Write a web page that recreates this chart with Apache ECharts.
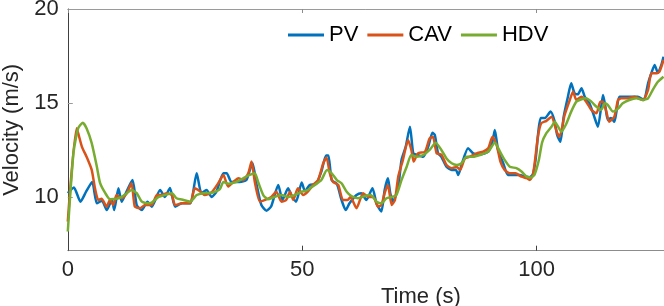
<!DOCTYPE html>
<html><head><meta charset="utf-8">
<script src="https://cdn.jsdelivr.net/npm/echarts@6/dist/echarts.min.js"></script>
<style>html,body{margin:0;padding:0;background:#fff}#c{width:664px;height:306px}</style>
</head><body><div id="c"></div>
<script>
const seriesNames = ['PV', 'CAV', 'HDV'];
const xTicks = [0, 50, 100];
const yTicks = [10, 15, 20];

const pvTime = [0,1.3,2.7,3.9,5.2,6.2,7.3,8.3,9.4,9.9,10.8,11.5,12.2,13.8,14.7,15.8,17.0,17.9,19.7,20.7,21.8,22.9,24.4,26.1,27.5,28.5,29.6,30.7,31.7,33.2,33.9,34.9,36.7,38.1,38.8,39.4,40.3,41.3,42.4,43.4,44.9,45.8,47.0,47.7,48.7,49.9,50.6,51.6,53.0,54.1,55.1,55.6,56.3,57.4,58.4,59.3,60.1,61.6,62.6,63.7,65.0,65.9,66.9,67.6,68.3,68.8,69.4,70.5,71.2,72.1,73.0,73.7,74.4,75.8,76.9,77.8,78.3,79.0,79.7,80.8,81.9,82.8,83.3,84.0,85.4,86.5,87.9,89.7,90.6,91.1,91.8,92.9,93.9,95.0,96.4,97.5,98.5,99.2,99.8,100.4,100.9,101.8,103.0,103.9,104.4,105.1,105.8,106.7,107.4,108.1,108.8,109.6,110.3,111.3,112.2,113.1,113.8,114.2,114.7,115.2,115.9,116.6,117.1,117.7,119.8,121.6,122.9,123.8,124.5,125.2,125.9,126.6,127.1];
const pvVel = [10.2,10.5,9.75,10.28,10.8,9.66,9.8,9.3,9.84,9.3,10.46,9.75,10.1,10.9,9.57,9.3,9.75,9.48,10.37,10.0,10.48,9.48,9.66,9.66,11.26,10.2,10.37,10.0,10.28,11.26,11.26,10.8,10.8,10.9,11.4,11.8,10.64,9.57,9.27,9.5,10.64,9.84,10.46,10.1,9.75,10.77,10.3,10.64,10.7,11.35,12.2,12.2,10.9,10.7,9.84,9.3,9.66,10.1,10.2,9.84,10.46,9.62,9.22,10.37,10.99,10.2,9.75,10.55,11.97,12.68,13.74,12.32,12.25,12.14,12.68,13.42,13.3,12.32,12.14,11.61,11.44,11.44,11.17,11.7,12.59,12.32,12.25,12.41,12.94,13.56,12.5,11.79,11.17,11.17,11.17,11.1,11.05,11.2,11.97,13.5,14.2,14.2,14.54,14.0,13.3,12.94,14.27,15.33,16.05,15.52,15.46,15.78,15.33,14.98,14.36,13.74,14.8,15.43,14.8,14.1,14.2,14.0,14.6,15.33,15.33,15.33,15.16,16.05,16.58,17.02,16.6,17.0,17.46];

const cavTime = [0,1.9,3.0,4.0,5.1,5.8,6.5,7.2,8.3,9.0,9.7,10.4,11.5,12.6,13.6,14.3,15.4,16.5,17.9,19.0,20.0,21.1,22.2,22.9,24.4,26.1,27.1,28.2,29.2,30.7,32.1,33.2,34.2,35.3,36.4,37.4,38.5,39.2,39.9,41.0,42.1,43.4,44.5,45.6,46.6,47.4,48.1,49.1,50.2,51.2,52.3,53.4,54.5,55.2,55.9,56.6,57.7,58.7,59.7,60.3,61.6,63.0,64.1,65.2,66.2,66.9,67.6,68.3,69.1,69.8,70.5,71.5,72.6,73.3,73.8,74.7,76.2,77.2,77.9,78.7,79.7,80.8,81.9,83.0,83.7,84.7,85.8,87.2,88.6,89.7,90.6,91.5,92.3,93.2,94.3,95.5,96.8,97.9,98.6,99.3,100.3,101.0,102.1,103.2,104.3,104.9,106.0,107.1,107.8,108.5,109.6,110.6,111.7,112.8,113.6,114.2,114.9,115.5,116.6,117.4,118.1,119.5,120.9,122.7,123.8,124.5,125.5,126.2,127.1];
const cavVel = [8.69,13.65,12.68,12.14,11.44,10.46,9.84,9.9,9.48,9.84,9.57,10.1,9.93,10.2,10.73,9.48,9.4,9.57,9.57,10.1,10.1,10.2,10.1,9.57,9.66,9.66,10.46,10.3,10.1,10.25,10.73,11.17,10.55,10.8,11.0,10.9,11.26,11.88,10.8,9.75,9.84,10.0,10.28,9.75,9.84,10.28,9.84,10.46,10.1,10.28,10.64,10.9,11.79,12.1,11.26,10.8,10.64,9.84,9.84,10.0,9.4,10.2,10.0,10.0,9.48,9.57,10.2,10.64,9.57,9.84,11.08,11.97,13.03,12.5,11.88,12.32,12.41,13.12,13.2,12.32,12.25,11.7,11.53,11.6,11.44,12.05,12.14,12.32,12.41,12.59,13.2,12.76,11.88,11.44,11.26,11.26,11.08,11.0,10.9,11.25,13.2,13.92,14.05,14.27,13.47,13.2,14.36,15.16,15.6,15.16,15.33,15.07,14.63,14.45,15.07,15.07,14.54,14.0,14.27,15.16,15.25,15.25,15.33,15.16,15.7,16.58,16.58,16.65,17.29];

const hdvTime = [0,1.2,2.2,3.2,4.0,5.1,6.2,6.9,8.0,9.0,10.4,11.5,12.6,13.6,14.7,15.8,17.0,17.9,19.4,20.7,22.2,23.2,24.7,26.1,27.5,28.9,30.7,32.4,33.2,34.2,36.0,37.4,38.8,39.9,40.6,41.7,42.7,44.1,45.6,47.0,48.4,49.9,51.2,52.7,54.1,55.3,56.3,57.4,58.4,59.5,60.5,61.9,63.4,64.6,65.9,66.9,68.0,69.1,70.1,71.2,72.3,73.3,74.4,75.8,77.2,78.5,79.7,80.8,81.9,83.0,84.0,85.1,86.5,87.9,89.7,91.1,92.2,93.2,94.3,95.7,96.8,97.9,98.9,99.6,100.5,101.2,102.1,103.2,103.9,104.6,105.3,106.4,107.4,108.5,109.6,110.6,111.7,112.8,113.8,114.6,115.2,116.3,117.4,118.4,119.8,121.3,122.7,123.8,124.8,125.9,127.1];
const hdvVel = [8.16,12.32,13.65,13.95,13.65,12.86,11.61,10.73,10.2,9.88,9.9,10.0,10.2,10.37,10.2,9.75,9.66,9.7,10.0,10.1,10.2,9.93,9.84,9.75,10.1,10.2,10.22,10.4,10.8,10.7,10.8,10.99,11.17,11.26,10.8,10.1,9.88,10.0,10.1,10.0,10.1,10.28,10.37,10.64,10.9,11.44,11.26,10.9,10.73,10.28,10.05,9.93,10.05,10.1,9.75,9.66,9.93,10.0,10.1,10.9,11.61,12.23,12.14,12.23,12.5,12.89,12.5,12.05,11.79,11.7,11.79,12.14,12.14,12.23,12.41,12.89,12.41,11.97,11.61,11.53,11.35,11.08,11.04,11.2,11.97,12.9,13.39,13.74,14.0,13.74,13.47,13.92,14.54,15.07,15.2,15.25,15.07,14.8,14.63,14.98,14.9,14.54,14.7,14.98,15.16,15.25,15.16,15.25,15.7,16.13,16.4];

const colors = ['#0072BD', '#D95319', '#77AC30'];
const zip = (t, v) => t.map((x, i) => [x, v[i]]);
const FONT = 'Liberation Sans, Arial, Helvetica, sans-serif';

const chart = echarts.init(document.getElementById('c'), null, {renderer: 'canvas'});
const xCommon = {
  type: 'value', min: 0, max: 127.2, interval: 50,
  splitLine: {show: false}
};
chart.setOption({
  animation: false,
  color: colors,
  grid: {left: 67.8, right: 0, top: 9, bottom: 55.3, containLabel: false, outerBoundsMode: 'none'},
  legend: {
    data: seriesNames, left: 288, top: 24, itemWidth: 36, itemHeight: 3, itemGap: 9,
    padding: 0, icon: 'rect',
    textStyle: {fontFamily: FONT, fontSize: 22, color: '#000'}
  },
  xAxis: [
    Object.assign({}, xCommon, {
      position: 'bottom',
      name: 'Time (s)', nameLocation: 'middle', nameGap: 30,
      nameTextStyle: {fontFamily: FONT, fontSize: 22, color: '#262626', padding: [0,0,0,110]},
      axisLine: {show: true, onZero: false, lineStyle: {color: '#8c8c8c', width: 1}},
      axisTick: {show: true, inside: true, length: 5, lineStyle: {color: '#404040'}, customValues: xTicks},
      axisLabel: {fontFamily: FONT, fontSize: 22, color: '#262626', margin: 8, customValues: xTicks}
    }),
    Object.assign({}, xCommon, {
      position: 'top',
      axisLine: {show: true, onZero: false, lineStyle: {color: '#9a9a9a', width: 1}},
      axisTick: {show: true, inside: true, length: 4, lineStyle: {color: '#8c8c8c'}, customValues: xTicks},
      axisLabel: {show: false}
    })
  ],
  yAxis: {
    type: 'value', min: 7.14, max: 20,
    name: 'Velocity (m/s)', nameLocation: 'middle', nameGap: 44,
    nameTextStyle: {fontFamily: FONT, fontSize: 22, color: '#262626'},
    splitLine: {show: false},
    axisLine: {show: true, onZero: false, lineStyle: {color: '#404040', width: 1}},
    axisTick: {show: true, inside: true, length: 5, lineStyle: {color: '#9a9a9a'}, customValues: yTicks},
    axisLabel: {fontFamily: FONT, fontSize: 22, color: '#262626', margin: 9, customValues: yTicks}
  },
  series: [
    {name: 'PV', type: 'line', data: zip(pvTime, pvVel)},
    {name: 'CAV', type: 'line', data: zip(cavTime, cavVel)},
    {name: 'HDV', type: 'line', data: zip(hdvTime, hdvVel)}
  ].map((s, i) => Object.assign(s, {
    xAxisIndex: 0, showSymbol: false, symbol: 'none', smooth: 0.2,
    lineStyle: {width: 2.5, color: colors[i]}, itemStyle: {color: colors[i]}, z: 2 + i
  }))
});
</script></body></html>
